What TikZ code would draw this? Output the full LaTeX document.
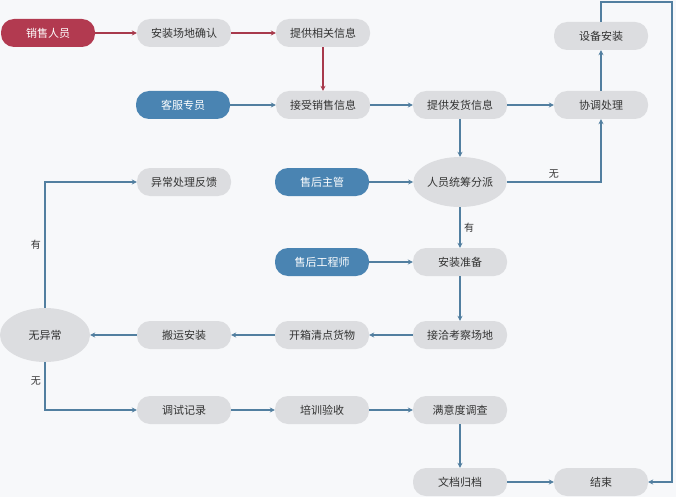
\documentclass[tikz,border=0pt]{standalone}
\usepackage{fontspec}
\setmainfont{Noto Sans CJK SC}
\usetikzlibrary{arrows.meta,shapes.geometric}
\definecolor{bg}{HTML}{F7F8FA}
\definecolor{gb}{HTML}{DCDDE0}
\definecolor{rd}{HTML}{B23A50}
\definecolor{bl}{HTML}{4A84B2}
\definecolor{ln}{HTML}{527FA0}
\definecolor{rl}{HTML}{A83A4C}
\begin{document}
\begin{tikzpicture}[x=1pt,y=-1pt,
 box/.style={rounded corners=13pt,minimum width=94pt,minimum height=28pt,fill=gb,text=black!80,font=\fontsize{11}{12}\selectfont,inner sep=1pt},
 rbox/.style={box,fill=rd,text=white},
 bbox/.style={box,fill=bl,text=white},
 a/.style={draw=ln,line width=1.4pt,-{Stealth[length=5pt,width=5pt]}},
 ra/.style={a,draw=rl},
 lab/.style={font=\fontsize{10}{12}\selectfont,text=black!80}]
\fill[bg] (0,0) rectangle (676,497);
\useasboundingbox (0,0) rectangle (676,497);
\node[rbox] (s) at (48,33) {销售人员};
\node[box] (az) at (184,33) {安装场地确认};
\node[box] (tx) at (323,33) {提供相关信息};
\node[box] (sb) at (601,36) {设备安装};
\node[bbox] (kf) at (183,105) {客服专员};
\node[box] (js) at (323,105) {接受销售信息};
\node[box] (fh) at (460,105) {提供发货信息};
\node[box] (xt) at (601,105) {协调处理};
\node[box] (yc) at (184,182) {异常处理反馈};
\node[bbox] (zg) at (322,182) {售后主管};
\node[ellipse,fill=gb,minimum width=90pt,minimum height=50pt,font=\fontsize{11}{12}\selectfont,text=black!80,inner sep=0pt] (tc) at (460,182) {人员统筹分派};
\node[bbox] (gc) at (322,262) {售后工程师};
\node[box] (zb) at (460,262) {安装准备};
\node[ellipse,fill=gb,minimum width=90pt,minimum height=54pt,font=\fontsize{11}{12}\selectfont,text=black!80,inner sep=0pt] (wy) at (45,335) {无异常};
\node[box] (by) at (184,335) {搬运安装};
\node[box] (kx) at (322,335) {开箱清点货物};
\node[box] (jq) at (460,335) {接洽考察场地};
\node[box] (ts) at (184,410) {调试记录};
\node[box] (px) at (322,410) {培训验收};
\node[box] (my) at (460,410) {满意度调查};
\node[box] (wd) at (460,482) {文档归档};
\node[box] (js2) at (601,482) {结束};
\draw[ra] (s) -- (az);
\draw[ra] (az) -- (tx);
\draw[ra] (tx) -- (js);
\draw[a] (kf) -- (js);
\draw[a] (js) -- (fh);
\draw[a] (fh) -- (xt);
\draw[a] (xt) -- (sb);
\draw[a] (fh) -- (tc);
\draw[a] (tc.east) -- (601,182) node[lab,pos=0.5,above] {无} -- (xt.south);
\draw[a] (zg) -- (tc);
\draw[a] (tc) -- node[lab,right] {有} (zb);
\draw[a] (gc) -- (zb);
\draw[a] (zb) -- (jq);
\draw[a] (jq) -- (kx);
\draw[a] (kx) -- (by);
\draw[a] (by) -- (wy);
\draw[a] (wy.north) -- node[lab,left,pos=0.5] {有} (45,182) -- (yc.west);
\draw[a] (wy.south) -- node[lab,left,pos=0.4] {无} (45,410) -- (ts.west);
\draw[a] (ts) -- (px);
\draw[a] (px) -- (my);
\draw[a] (my) -- (wd);
\draw[a] (wd) -- (js2);
\draw[a] (sb.north) -- (601,2) -- (672,2) -- (672,482) -- (js2.east);
\end{tikzpicture}
\end{document}
